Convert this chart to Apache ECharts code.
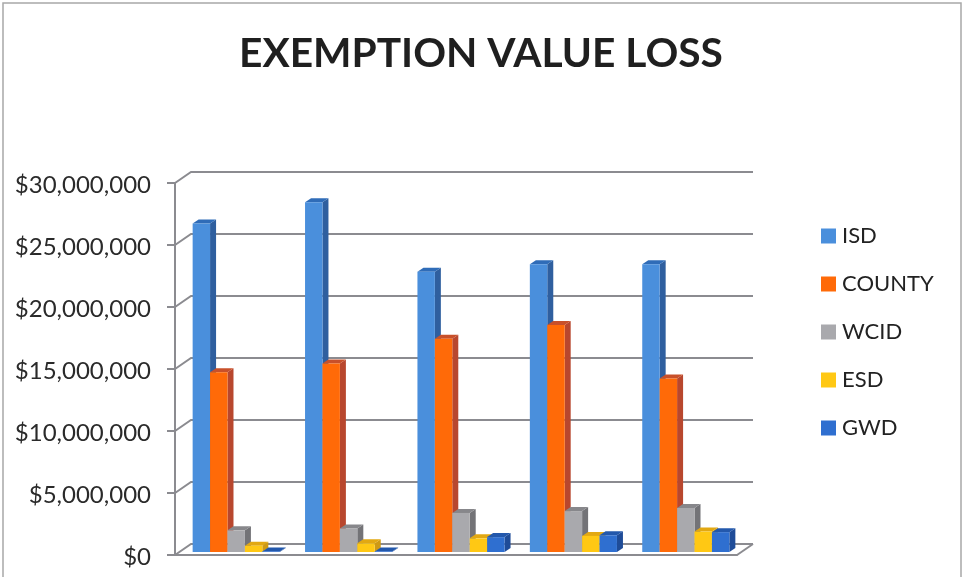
<!DOCTYPE html>
<html>
<head>
<meta charset="utf-8">
<title>EXEMPTION VALUE LOSS</title>
<script src="https://cdn.jsdelivr.net/npm/echarts@6/dist/echarts.min.js"></script>
<style>
    html, body { margin: 0; padding: 0; background: #fff; }
    #chart { width: 963px; height: 577px; }
</style>
</head>
<body>
<div id="chart"></div>
<script>
// values (category labels are cropped in the reference)
const categories = ['A', 'B', 'C', 'D', 'E'];
const isd    = [26500000, 28200000, 22600000, 23200000, 23200000];
const county = [14500000, 15200000, 17200000, 18300000, 14000000];
const wcid   = [1750000, 1900000, 3150000, 3300000, 3550000];
const esd    = [500000, 700000, 1100000, 1300000, 1650000];
const gwd    = [50000, 50000, 1200000, 1350000, 1600000];
const yTicks = [0, 5000000, 10000000, 15000000, 20000000, 25000000, 30000000];

const seriesNames = ['ISD', 'COUNTY', 'WCID', 'ESD', 'GWD'];
const seriesValues = [isd, county, wcid, esd, gwd];
// front, side, top
const seriesColors = [
    ['#4a8fdc', '#2f5f9f', '#2f6cb8'],
    ['#ff6a08', '#b8472e', '#c8502a'],
    ['#a9a9ad', '#737377', '#87878b'],
    ['#ffc814', '#cf9a14', '#e2a812'],
    ['#2f6fd0', '#1f4c98', '#2358ac']
];

const WALL_DX = 16, WALL_DY = -11;   // depth of the 3d box
const BAR_DX = 5, BAR_DY = -3;       // bars stand a bit behind the front edge
const BAR_DEPTH_X = 6, BAR_DEPTH_Y = -4;
const BAR_WIDTH = 0.155;             // of one category band

function poly(points, fill) {
    return { type: 'polygon', shape: { points: points }, style: { fill: fill }, silent: true };
}

function renderBar(params, api) {
    const idx = params.seriesIndex - 1;
    const cols = seriesColors[idx];
    const base = api.coord([api.value(0), 0]);
    const top = api.coord([api.value(0), api.value(1)]);
    const w = api.size([1, 0])[0] * BAR_WIDTH;
    const x0 = base[0] + BAR_DX + (idx - 2.5) * w;
    const x1 = x0 + w;
    const yb = base[1] + BAR_DY;
    const yt = top[1] + BAR_DY;
    return {
        type: 'group',
        children: [
            poly([[x1, yb], [x1 + BAR_DEPTH_X, yb + BAR_DEPTH_Y], [x1 + BAR_DEPTH_X, yt + BAR_DEPTH_Y], [x1, yt]], cols[1]),
            poly([[x0, yt], [x1, yt], [x1 + BAR_DEPTH_X, yt + BAR_DEPTH_Y], [x0 + BAR_DEPTH_X, yt + BAR_DEPTH_Y]], cols[2]),
            poly([[x0, yb], [x1, yb], [x1, yt], [x0, yt]], cols[0])
        ]
    };
}

// gridlines on the back wall, with the slanted piece on the side wall
function renderWall(params, api) {
    const left = params.coordSys.x;
    const right = left + params.coordSys.width;
    const y = api.coord([0, api.value(0)])[1];
    const lineStyle = { stroke: '#8b8b90', lineWidth: 2, fill: null };
    const children = [{
        type: 'polyline',
        shape: { points: [[left, y], [left + WALL_DX, y + WALL_DY], [right + WALL_DX, y + WALL_DY]] },
        style: lineStyle,
        silent: true
    }];
    if (api.value(0) === 0) {
        children.push({
            type: 'polyline',
            shape: { points: [[right, y], [right + WALL_DX, y + WALL_DY]] },
            style: lineStyle,
            silent: true
        });
    }
    return { type: 'group', children: children };
}

const series = [{
    type: 'custom',
    name: 'wall',
    silent: true,
    renderItem: renderWall,
    encode: { y: 0 },
    data: yTicks.map(t => [t])
}];
seriesNames.forEach((name, i) => {
    series.push({
        type: 'custom',
        name: name,
        renderItem: renderBar,
        encode: { x: 0, y: 1 },
        itemStyle: { color: seriesColors[i][0] },
        data: seriesValues[i].map((v, c) => [c, v])
    });
});

const myChart = echarts.init(document.getElementById('chart'));
myChart.setOption({
    animation: false,
    backgroundColor: '#fff',
    title: {
        text: 'EXEMPTION VALUE LOSS',
        left: 234,
        top: 28,
        textStyle: { fontFamily: 'Lato', fontWeight: 'bold', fontSize: 40.7, color: '#1f1f1f' }
    },
    legend: {
        data: seriesNames,
        orient: 'vertical',
        left: 816,
        top: 220,
        icon: 'rect',
        itemWidth: 15,
        itemHeight: 15,
        itemGap: 26,
        selectedMode: false,
        textStyle: { fontFamily: 'Lato', fontSize: 22, color: '#222', padding: [0, 0, 0, 1] }
    },
    grid: { left: 175, right: 226, top: 183, bottom: 22 },
    xAxis: {
        type: 'category',
        data: categories,
        axisLine: { lineStyle: { color: '#8b8b90', width: 2 } },
        axisTick: { show: false },
        axisLabel: { show: false }
    },
    yAxis: {
        type: 'value',
        min: 0,
        max: 30000000,
        interval: 5000000,
        axisLine: { show: true, lineStyle: { color: '#8b8b90', width: 2 } },
        axisTick: { show: true, length: 8, lineStyle: { color: '#8b8b90', width: 2 } },
        splitLine: { show: false },
        axisLabel: {
            margin: 24,
            formatter: v => '{t|$' + v.toLocaleString('en-US') + '}',
            rich: {
                t: { fontFamily: 'Lato', fontSize: 24, color: '#2a2a2a', padding: [4, 0, 0, 0] }
            }
        }
    },
    graphic: [{
        type: 'rect',
        silent: true,
        z: -1,
        shape: { x: 3, y: 3, width: 958, height: 600 },
        style: { fill: null, stroke: '#a8a8a8', lineWidth: 1.5 }
    }],
    series: series
});
</script>
</body>
</html>
